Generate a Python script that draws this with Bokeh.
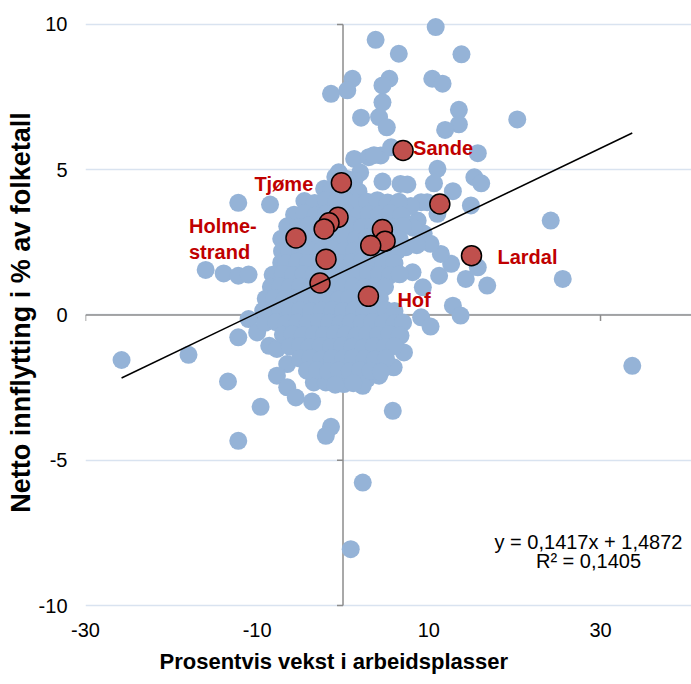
from bokeh.plotting import figure
from bokeh.models import Range1d, FixedTicker, Label, LabelSet, ColumnDataSource, Title
from bokeh.embed import file_html
from bokeh.resources import INLINE
from bokeh.core.properties import value

FONT = "Liberation Sans"

# ---------------- data ----------------
# scattered municipalities (x: % growth in jobs, y: net in-migration % of population)
outer_x = [10.8, 3.8, 6.5, 13.8, 1.1, 0.5, 5.4, 4.6, 10.4, 11.6,
           4.6, 2.1, 4.2, 5.1, 13.5, 13.5, 11.9, 20.3, 1.3, 3.0,
           4.4, 5.6, 3.6, 15.7, 11.0, 4.6, 6.7, 7.5, 10.6, 12.8,
           15.3, 16.1, 9.8, 9.1, 14.9, 11.0, 8.7, 9.4, 24.2, 25.6,
           8.1, 11.2, 12.6, 14.3, 15.7, 16.8, 9.3, 11.4, 12.8, 13.7,
           9.1, 10.2, 7.3, 10.2, -1.4, -12.2, -8.5, -16.0, -13.9, -12.2,
           -11.0, -11.0, -2.2, -0.5, -3.8, -25.8, -18.0, -13.4, -9.6, -12.2,
           -12.2, -10.0, -8.6, -7.7, -6.5, -7.7, -6.5, -5.5, -3.6, -3.4,
           -2.0, 0.1, -1.4, -2.0, 0.9, -5.3, 33.7, 5.8, 2.3, 7.1,
           5.9, 4.2, 2.8, 2.3, 4.0, 6.7, 1.3, 7.9, 8.2, 8.6, 2.0, 1.3]
outer_y = [9.91, 9.47, 8.99, 8.97, 8.13, 7.73, 8.13, 7.90, 8.13, 7.96,
           7.32, 6.79, 6.81, 6.46, 7.06, 6.56, 6.37, 6.73, 5.37, 5.43,
           5.49, 5.77, 5.50, 5.57, 5.03, 4.59, 4.51, 4.49, 4.53, 4.26,
           4.74, 4.53, 3.88, 3.88, 3.77, 3.48, 3.25, 2.80, 3.25, 1.24,
           1.47, 1.35, 1.76, 1.24, 1.64, 1.01, 0.95, 2.10, 0.32, -0.02,
           -0.08, -0.40, 2.33, 2.45, 7.61, 3.86, 3.80, 1.55, 1.43, 1.35,
           1.39, -0.14, 4.34, 4.91, 3.82, -1.55, -1.37, -2.29, -3.16, -4.33,
           -0.77, -0.60, -1.06, -1.17, -1.69, -2.09, -2.49, -2.84, -2.98, -2.32,
           -2.32, -2.38, -3.85, -4.16, -8.06, -0.94, -1.75, -3.30, -5.77, -1.29,
           -1.80, -2.09, -2.20, -2.44, -1.17, -0.71, -1.34, 3.75, 3.00, 2.40, 4.90, 4.60]

# dense central cloud of municipalities
cloud_x = [-0.9, 0.5,
           -1.4, -0.4, 0.9, 1.8,
           -4.5, -3.3, -2.0, -0.8, 0.4, 1.6, 2.8, 4.0, 5.2, 6.5,
           -5.7, -4.5, -3.2, -2.0, -0.8, 0.5, 1.8, 3.0, 4.2, 5.5, 6.8,
           -6.5, -5.2, -4.0, -2.8, -1.5, -0.3, 1.0, 2.2, 3.5, 4.8, 6.0, 7.0,
           -7.2, -6.0, -4.7, -3.4, -2.2, -1.0, 0.3, 1.5, 2.8, 4.0, 5.3, 6.6,
           -7.1, -6.3, -5.0, -3.8, -2.5, -1.3, 0.0, 1.3, 2.5, 3.8, 5.0, 6.3,
           -7.2, -6.6, -5.3, -4.1, -2.8, -1.6, -0.3, 1.0, 2.2, 3.5, 4.7, 6.0,
           -8.2, -7.0, -5.8, -4.6, -3.4, -2.1, -0.8, 0.4, 1.7, 2.9, 4.2, 5.5, 6.6,
           -8.4, -7.3, -6.2, -5.0, -3.8, -2.6, -1.3, 0.0, 1.2, 2.5, 3.7, 4.9,
           -9.0, -8.0, -6.8, -5.5, -4.3, -3.0, -1.8, -0.5, 0.7, 2.0, 3.2, 4.3,
           -9.3, -8.3, -7.3, -6.2, -5.0, -3.7, -2.5, -1.2, 0.0, 1.3, 2.5, 3.8, 5.0, 6.0,
           -9.1, -7.8, -6.6, -5.3, -4.1, -2.8, -1.6, -0.3, 0.9, 2.2, 3.4, 4.7, 6.0, 7.0,
           -7.0, -5.9, -4.7, -3.4, -2.2, -0.9, 0.3, 1.6, 2.8, 4.1, 5.4, 6.6,
           -6.2, -5.0, -3.9, -2.6, -1.4, -0.1, 1.1, 2.4, 3.6, 4.9, 6.0,
           -5.0, -3.8, -2.5, -1.3, 0.0, 1.2, 2.5, 3.7, 5.0,
           -4.2, -3.0, -1.7, -0.5, 0.8, 2.0, 3.2, 4.4,
           -0.9, 1.2]
cloud_y = [4.75, 4.68,
           4.28, 4.20, 4.35, 4.25,
           3.92, 3.85, 3.95, 3.88, 3.93, 3.86, 3.90, 3.95, 3.87, 3.90,
           3.45, 3.50, 3.42, 3.48, 3.44, 3.50, 3.43, 3.47, 3.45, 3.50, 3.42,
           3.05, 3.02, 3.08, 3.04, 3.06, 3.00, 3.07, 3.03, 3.05, 3.08, 3.02, 3.06,
           2.62, 2.66, 2.60, 2.64, 2.61, 2.65, 2.63, 2.60, 2.66, 2.62, 2.64, 2.60,
           2.20, 2.24, 2.18, 2.22, 2.20, 2.25, 2.19, 2.21, 2.23, 2.18, 2.22, 2.20,
           1.80, 1.78, 1.83, 1.79, 1.82, 1.80, 1.77, 1.81, 1.84, 1.79, 1.80, 1.78,
           1.38, 1.41, 1.37, 1.40, 1.39, 1.42, 1.36, 1.40, 1.38, 1.41, 1.39, 1.37, 1.40,
           0.97, 0.99, 0.95, 0.98, 0.96, 1.00, 0.97, 0.94, 0.98, 0.96, 0.99, 0.97,
           0.56, 0.58, 0.54, 0.57, 0.55, 0.59, 0.56, 0.53, 0.57, 0.55, 0.58, 0.56,
           0.15, 0.12, 0.17, 0.14, 0.16, 0.13, 0.15, 0.18, 0.14, 0.16, 0.12, 0.15, 0.17, 0.14,
           -0.27, -0.25, -0.29, -0.26, -0.28, -0.24, -0.27, -0.30, -0.26, -0.28, -0.25, -0.27, -0.29, -0.26,
           -0.68, -0.66, -0.70, -0.67, -0.69, -0.65, -0.68, -0.71, -0.67, -0.69, -0.66, -0.70,
           -1.09, -1.07, -1.11, -1.08, -1.10, -1.06, -1.09, -1.12, -1.08, -1.10, -1.07,
           -1.50, -1.48, -1.52, -1.49, -1.51, -1.47, -1.50, -1.53, -1.49,
           -1.92, -1.90, -1.94, -1.91, -1.93, -1.89, -1.92, -1.95,
           -2.40, -2.35]

# Vestfold municipalities (highlighted)
vestfold_x = [7.0, -0.19, -0.58, -1.63, -2.2, -5.48, -1.98, -2.68, 4.59, 4.9, 3.23, 2.96, 11.28, 14.97]
vestfold_y = [5.66, 4.55, 3.36, 3.17, 2.96, 2.65, 1.92, 1.10, 2.94, 2.54, 2.39, 0.64, 3.82, 2.04]

label_names = ["Sande", "Tjøme", "Holme-\nstrand", "Lardal", "Hof"]
label_x = [7.0, -0.19, -5.48, 14.97, 2.96]
label_y = [5.66, 4.55, 2.65, 2.04, 0.64]

trend_slope = 0.1417
trend_intercept = 1.4872
r_squared = 0.1405

x_ticks = [-30, -10, 10, 30]
y_ticks = [-10, -5, 0, 5, 10]

# ---------------- styling / layout ----------------
label_dx = [10, -87, -107, 26, 29]
label_dy = [3, -1, -1, -1.5, -4]

X0, X1 = -30, 40.6
Y0, Y1 = -10.24, 10.41
FRAME_W, FRAME_H = 606, 600

p = figure(width=691, height=684, x_range=Range1d(X0, X1), y_range=Range1d(Y0, Y1),
           output_backend="svg", toolbar_location=None,
           min_border_left=85, min_border_right=0, min_border_top=12, min_border_bottom=72)
p.outline_line_color = None
p.background_fill_color = "white"
p.border_fill_color = "white"

for ax in (p.xaxis, p.yaxis):
    ax.axis_line_color = None
    ax.major_tick_in = 0
    ax.major_tick_out = 0
    ax.minor_tick_in = 0
    ax.minor_tick_out = 0
    ax.major_label_text_font = FONT
    ax.major_label_text_font_size = "20px"
    ax.major_label_text_color = "black"

p.xaxis.ticker = FixedTicker(ticks=x_ticks)
p.xaxis.major_label_overrides = {t: str(t) for t in x_ticks}
p.xaxis.major_label_standoff = 10
p.yaxis.ticker = FixedTicker(ticks=y_ticks)
p.yaxis.major_label_overrides = {t: str(t) for t in y_ticks}
p.yaxis.major_label_standoff = 18
p.yaxis.axis_label = "Netto innflytting i % av folketall"
p.yaxis.axis_label_text_font = FONT
p.yaxis.axis_label_text_font_size = "27px"
p.yaxis.axis_label_text_font_style = "bold"
p.yaxis.axis_label_text_color = "black"
p.yaxis.axis_label_standoff = 0

p.xgrid.visible = False
p.ygrid.ticker = FixedTicker(ticks=y_ticks)
p.ygrid.grid_line_color = "#d9e3f0"
p.ygrid.grid_line_width = 1.5

AXIS_COLOR = "#8c8c8c"
px_x = FRAME_W / (X1 - X0)
px_y = FRAME_H / (Y1 - Y0)
# axis lines crossing at the origin
p.segment(x0=[0], y0=[y_ticks[0]], x1=[0], y1=[y_ticks[-1]], line_color=AXIS_COLOR, line_width=1.5)
p.segment(x0=[X0], y0=[0], x1=[X1], y1=[0], line_color=AXIS_COLOR, line_width=1.5)
p.segment(x0=[0] * len(y_ticks), y0=y_ticks, x1=[-6 / px_x] * len(y_ticks), y1=y_ticks,
          line_color=AXIS_COLOR, line_width=1.5)
p.segment(x0=x_ticks, y0=[0] * len(x_ticks), x1=x_ticks, y1=[-6 / px_y] * len(x_ticks),
          line_color=AXIS_COLOR, line_width=1.5)

all_x = outer_x + cloud_x
all_y = outer_y + cloud_y
p.scatter(all_x, all_y, size=18, fill_color="#95b3d7", line_color=None)
p.scatter(vestfold_x, vestfold_y, size=20, fill_color="#c0504d", line_color="black", line_width=1.5)

xmin = min(all_x + vestfold_x)
xmax = max(all_x + vestfold_x)
p.line([xmin, xmax], [trend_slope * xmin + trend_intercept, trend_slope * xmax + trend_intercept],
       line_color="black", line_width=1.5)

src = ColumnDataSource(dict(x=label_x, y=label_y, text=label_names, dx=label_dx, dy=label_dy))
p.add_layout(LabelSet(x="x", y="y", text="text", x_offset="dx", y_offset="dy", source=src,
                      text_font=value(FONT), text_font_size="20px", text_font_style="bold",
                      text_color="#c00000", text_baseline="middle", text_align="left",
                      text_line_height=1.15))

eq1 = ("y = %.4fx + %.4f" % (trend_slope, trend_intercept)).replace(".", ",")
eq2 = ("R² = %.4f" % r_squared).replace(".", ",")
p.add_layout(Label(x=28.6, y=-7.83, text=eq1, text_align="center", text_baseline="middle",
                   text_font=FONT, text_font_size="20px", text_color="black"))
p.add_layout(Label(x=28.6, y=-8.46, text=eq2, text_align="center", text_baseline="middle",
                   text_font=FONT, text_font_size="20px", text_color="black"))

p.add_layout(Title(text="Prosentvis vekst i arbeidsplasser", align="left", offset=74, standoff=14,
                   text_font=FONT, text_font_size="22px", text_font_style="bold",
                   text_color="black"), "below")

open("out.html", "w").write(file_html(p, INLINE))
